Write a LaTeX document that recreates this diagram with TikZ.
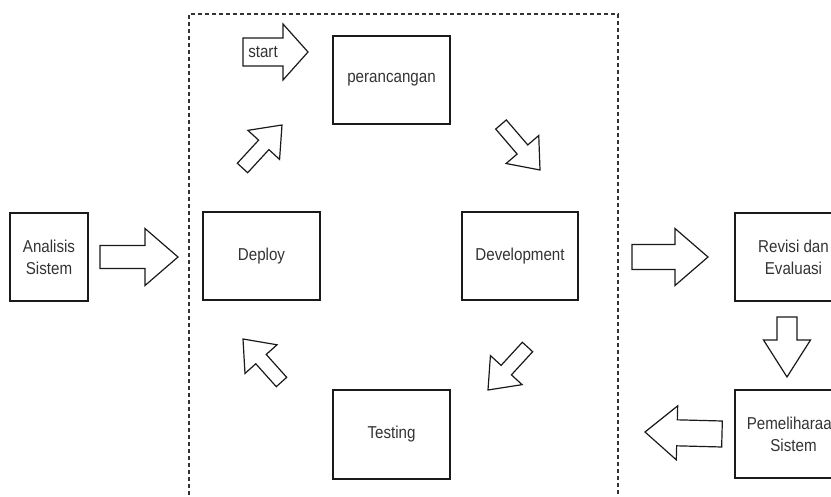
\documentclass[tikz,border=0pt]{standalone}
\usepackage{fontspec}
\setmainfont{Liberation Sans}[FakeStretch=0.88]
\usetikzlibrary{calc}
\definecolor{txt}{HTML}{333333}
\definecolor{edge}{HTML}{1A1A1A}
\tikzset{
  box/.style={draw=edge, line width=1.2pt, rectangle, minimum width=117pt, minimum height=88pt,
    text=txt, align=center, font=\fontsize{17.2}{22}\selectfont, inner sep=0pt},
  blockarr/.style={draw=edge, line width=1.2pt, line join=miter, fill=white},
  frame/.style={draw=txt, line width=1.2pt, dash pattern=on 4pt off 3pt},
  lbl/.style={text=txt, font=\fontsize{17.2}{22}\selectfont, inner sep=0pt}
}
\newcommand\blockarrow[5]{%
  \coordinate (ba-c) at ($(#2)!#5!(#1)$);
  \draw[blockarr] ($(#1)!#3!90:(#2)$) -- ($(ba-c)!#3!-90:(#1)$) -- ($(ba-c)!#4!-90:(#1)$)
    -- (#2) -- ($(ba-c)!#4!90:(#1)$) -- ($(ba-c)!#3!90:(#1)$) -- ($(#1)!#3!-90:(#2)$) -- cycle;}
\begin{document}
\begin{tikzpicture}[x=1pt, y=-1pt]
\useasboundingbox (0,0) rectangle (831,497);
\clip (0,0) rectangle (831,497);
% dashed frame
\draw[frame] (189,530) -- (189,14) -- (618,14) -- (618,530);
% boxes
\node[box, minimum width=78pt] (analisis) at (49,257) {Analisis\\Sistem};
\node[box] (deploy) at (261.5,256) {Deploy};
\node[box] (perancangan) at (391.5,80) {perancangan};
\node[box, minimum width=116pt] (development) at (520,256) {Development};
\node[box, minimum height=89pt] (testing) at (391.5,434.5) {Testing};
\node[box] (revisi) at (793.5,257) {Revisi dan\\Evaluasi};
\node[box] (pemeliharaan) at (793.5,434) {Pemeliharaan\\Sistem};
% arrow end points
\coordinate (a1t) at (100,257); \coordinate (a1h) at (178,257);
\coordinate (a2t) at (632,257); \coordinate (a2h) at (708,257);
\coordinate (a3t) at (787,317); \coordinate (a3h) at (787,377);
\coordinate (a4t) at (722,434); \coordinate (a4h) at (645,432);
\coordinate (sTt) at (243,52);  \coordinate (sTh) at (308,52);
\coordinate (d1t) at (242.5,168); \coordinate (d1h) at (282,125);
\coordinate (d2t) at (501,124.5); \coordinate (d2h) at (540,170);
\coordinate (d3t) at (527.5,347); \coordinate (d3h) at (488,390);
\coordinate (d4t) at (281.5,382); \coordinate (d4h) at (243,339);
% horizontal / vertical block arrows
\blockarrow{a1t}{a1h}{11.5pt}{28.5pt}{33pt}
\blockarrow{a2t}{a2h}{12.5pt}{28.5pt}{33pt}
\blockarrow{a3t}{a3h}{10pt}{23.5pt}{37pt}
\blockarrow{a4t}{a4h}{13pt}{27pt}{32pt}
\blockarrow{sTt}{sTh}{14pt}{28pt}{25pt}
\node[lbl] (start) at (263,52) {start};
% diagonal block arrows
\blockarrow{d1t}{d1h}{7pt}{21.5pt}{27pt}
\blockarrow{d2t}{d2h}{7pt}{21.5pt}{27pt}
\blockarrow{d3t}{d3h}{7pt}{21.5pt}{27pt}
\blockarrow{d4t}{d4h}{7pt}{21.5pt}{27pt}
\end{tikzpicture}
\end{document}
